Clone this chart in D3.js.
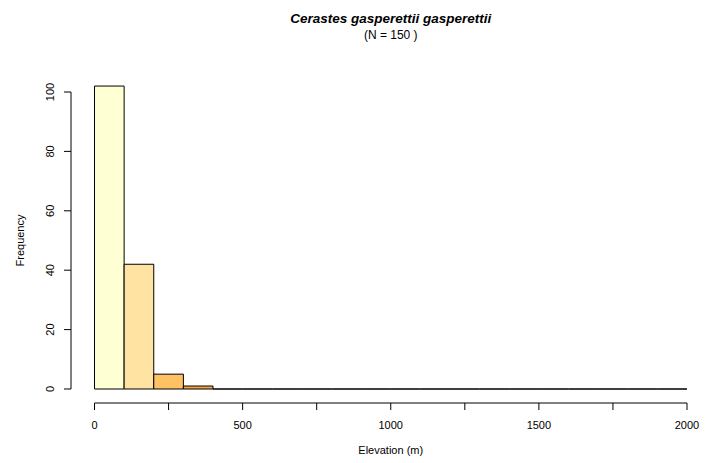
<!DOCTYPE html>
<html lang="en">
<head>
  <meta charset="utf-8">
  <title>Cerastes gasperettii gasperettii</title>
  <script src="https://d3js.org/d3.v7.min.js"></script>
  <style>
    body { margin: 0; background: #fff; }
    text { font-family: "Liberation Sans", Arial, Helvetica, sans-serif; fill: #000; }
  </style>
</head>
<body>
  <svg width="716" height="463"></svg>
  <script>
    // bins de 100 m, de 0 a 2000
    var binStarts = d3.range(0, 2000, 100);
    var counts = [102, 42, 5, 1, 0, 0, 0, 0, 0, 0, 0, 0, 0, 0, 0, 0, 0, 0, 0, 0];
    var binColors = ["#FFFFD4", "#FEE3A2", "#FEC264", "#FDA640"];
    var xTicks = d3.range(0, 2001, 250);
    var xLabels = [0, 500, 1000, 1500, 2000];
    var yTicks = [0, 20, 40, 60, 80, 100];

    var svg = d3.select("svg");
    var x = d3.scaleLinear().domain([0, 2000]).range([94.5, 687]);
    var y = d3.scaleLinear().domain([0, 100]).range([389, 92]);

    // barras (path, para que as de altura zero ainda desenhem a linha)
    svg.append("g").selectAll("path")
      .data(binStarts)
      .enter().append("path")
        .attr("d", (d, i) => {
          var x0 = x(d), x1 = x(d + 100), y0 = y(0), y1 = y(counts[i]);
          return "M" + x0 + "," + y0 + "V" + y1 + "H" + x1 + "V" + y0 + "Z";
        })
        .attr("fill", (d, i) => binColors[i] || "#FD8D3C")
        .attr("stroke", "#000")
        .attr("stroke-width", 1);

    // eixo x
    var xAxis = svg.append("g").attr("transform", "translate(0,403)");
    xAxis.append("line")
      .attr("x1", x(0)).attr("x2", x(2000))
      .attr("stroke", "#000");
    xAxis.selectAll(".tick").data(xTicks).enter().append("line")
      .attr("x1", d => x(d)).attr("x2", d => x(d))
      .attr("y1", 0).attr("y2", 7)
      .attr("stroke", "#000");
    xAxis.selectAll("text").data(xLabels).enter().append("text")
      .attr("x", d => x(d)).attr("y", 26)
      .attr("text-anchor", "middle")
      .style("font-size", "11px")
      .text(d => d);

    // eixo y
    var yAxis = svg.append("g").attr("transform", "translate(71,0)");
    yAxis.append("line")
      .attr("y1", y(0)).attr("y2", y(100))
      .attr("stroke", "#000");
    yAxis.selectAll(".tick").data(yTicks).enter().append("line")
      .attr("x1", -7).attr("x2", 0)
      .attr("y1", d => y(d)).attr("y2", d => y(d))
      .attr("stroke", "#000");
    yAxis.selectAll("text").data(yTicks).enter().append("text")
      .attr("transform", d => "translate(-17," + y(d) + ") rotate(-90)")
      .attr("text-anchor", "middle")
      .style("font-size", "11px")
      .text(d => d);

    // titulos
    var cx = (x(0) + x(2000)) / 2;
    svg.append("text")
      .attr("x", cx).attr("y", 23)
      .attr("text-anchor", "middle")
      .style("font-size", "13.5px").style("font-weight", "bold").style("font-style", "italic")
      .text("Cerastes gasperettii gasperettii");
    svg.append("text")
      .attr("x", cx).attr("y", 39)
      .attr("text-anchor", "middle")
      .style("font-size", "12px")
      .text("(N = 150 )");
    svg.append("text")
      .attr("x", cx).attr("y", 454)
      .attr("text-anchor", "middle")
      .style("font-size", "11px")
      .text("Elevation (m)");
    svg.append("text")
      .attr("transform", "translate(24," + y(50) + ") rotate(-90)")
      .attr("text-anchor", "middle")
      .style("font-size", "11px")
      .text("Frequency");
  </script>
</body>
</html>
